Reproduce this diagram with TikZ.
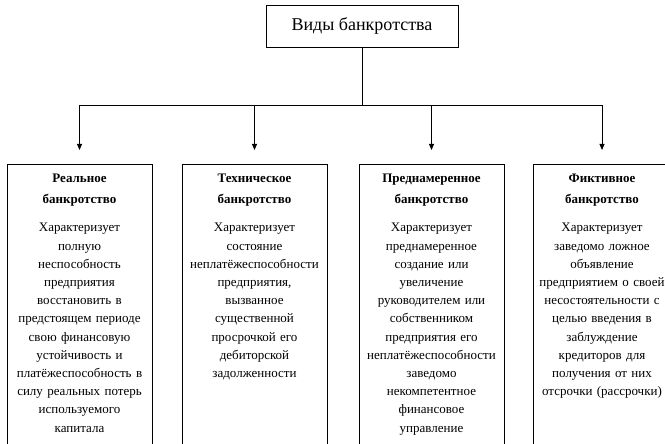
\documentclass[tikz,border=0pt]{standalone}
\usepackage{fontspec}
\setmainfont{Liberation Serif}
\usetikzlibrary{arrows.meta}
\tikzset{
  kind/.style={draw,line width=0.8pt,anchor=north,text width=139pt,inner xsep=3pt,inner ysep=10pt,
    align=center,font=\fontsize{13}{18.2}\selectfont,text depth=270pt},
  link/.style={line width=0.8pt}
}
\begin{document}
\begin{tikzpicture}[x=1pt,y=-1pt]
\useasboundingbox (0,0) rectangle (665,444);
% Root box
\node[draw,line width=0.8pt,minimum width=192pt,minimum height=42pt,font=\fontsize{18}{22}\selectfont] (types) at (362,26) {Виды банкротства};
% Kinds of bankruptcy
\node[kind] (real) at (79.5,164) {\textbf{Реальное}\\[2.5pt]\textbf{банкротство}\\[10pt]
Характеризует\\полную\\неспособность\\предприятия\\восстановить в\\предстоящем периоде\\свою финансовую\\устойчивость и\\платёжеспособность в\\силу реальных потерь\\используемого\\капитала};
\node[kind] (tech) at (254.5,164) {\textbf{Техническое}\\[2.5pt]\textbf{банкротство}\\[10pt]
Характеризует\\состояние\\неплатёжеспособности\\предприятия,\\вызванное\\существенной\\просрочкой его\\дебиторской\\задолженности};
\node[kind] (delib) at (431.5,164) {\textbf{Преднамеренное}\\[2.5pt]\textbf{банкротство}\\[10pt]
Характеризует\\преднамеренное\\создание или\\увеличение\\руководителем или\\собственником\\предприятия его\\неплатёжеспособности\\заведомо\\некомпетентное\\финансовое\\управление};
\node[kind,text width=132pt] (fict) at (602,164) {\textbf{Фиктивное}\\[2.5pt]\textbf{банкротство}\\[10pt]
Характеризует\\заведомо ложное\\объявление\\предприятием о своей\\несостоятельности с\\целью введения в\\заблуждение\\кредиторов для\\получения от них\\отсрочки (рассрочки)};
% Connectors
\coordinate (bus) at (0,105);
\path[draw,link] (types.south) -- (types.south |- bus);
\path[draw,link] (real.north |- bus) -- (fict.north |- bus);
\foreach \k in {real,tech,delib,fict}{
\draw[link,-{Triangle[width=5pt,length=6pt]},shorten >=14pt] (\k.north |- bus) -- (\k.north);
}
\end{tikzpicture}
\end{document}
